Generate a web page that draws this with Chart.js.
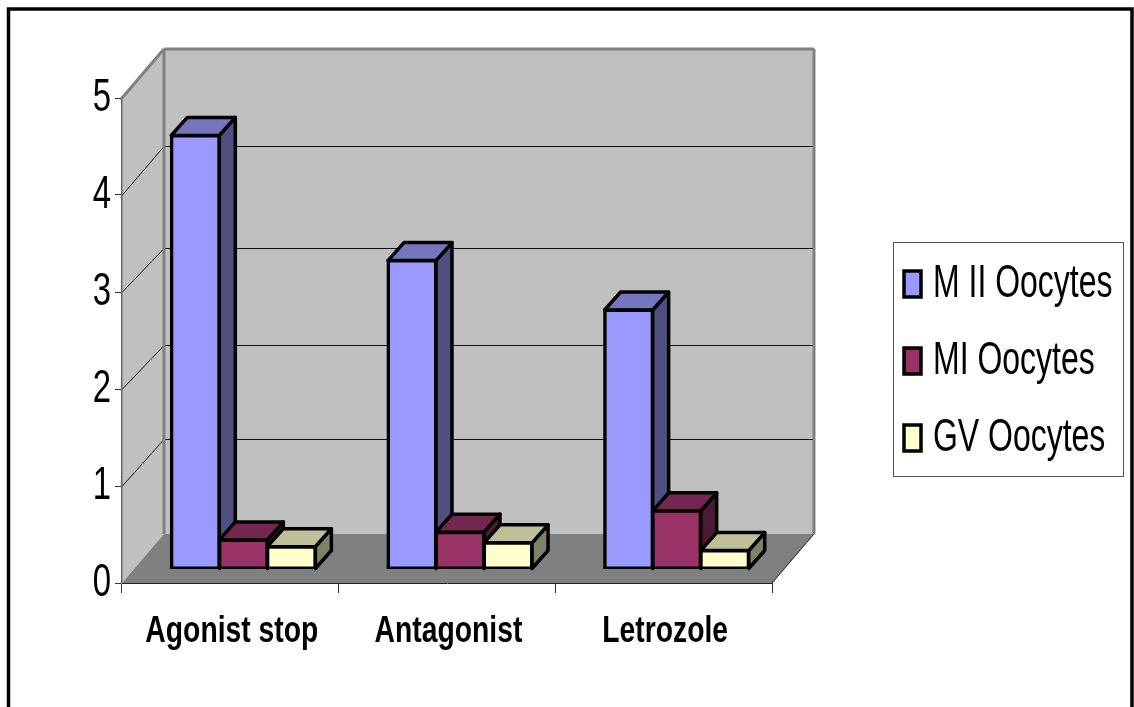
<!DOCTYPE html>
<html>
<head>
<meta charset="utf-8">
<style>html,body{margin:0;padding:0;background:#fff}canvas{display:block}</style>
<script src="https://cdn.jsdelivr.net/npm/chart.js@4"></script>
</head>
<body>
<canvas id="c" width="1134" height="707"></canvas>
<script>
const categories = ["Agonist stop", "Antagonist", "Letrozole"];
const mIIOocytes = [4.47, 3.18, 2.67];
const mIOocytes = [0.30, 0.38, 0.60];
const gvOocytes = [0.23, 0.27, 0.19];
const seriesNames = ["M II Oocytes", "MI Oocytes", "GV Oocytes"];
const yTicks = [0, 1, 2, 3, 4, 5];

const FAMILY = '"Liberation Sans",Arial,sans-serif';
const SIZE_TICK = 47, SIZE_CAT = 37, SIZE_LEG = 46;
const WALL = {dx: 42, dy: -49};
const GRID_RISE = {1: -47, 2: -44, 3: -44, 4: -49};
const BAR_OFF = {dx: 13, dy: -14};
const BAR_DEPTH = {dx: 16, dy: -18};
const shades = [
  {front: '#9999FF', top: '#7676BF', side: '#4F4F80'},
  {front: '#993366', top: '#732650', side: '#4D1A33'},
  {front: '#FFFFCC', top: '#BFBF99', side: '#808066'}
];
function poly(ctx, pts, fill, stroke, lw) {
  ctx.beginPath();
  pts.forEach((p, i) => i ? ctx.lineTo(p[0], p[1]) : ctx.moveTo(p[0], p[1]));
  ctx.closePath();
  if (fill) { ctx.fillStyle = fill; ctx.fill(); }
  if (stroke) { ctx.strokeStyle = stroke; ctx.lineWidth = lw; ctx.lineJoin = 'round'; ctx.stroke(); }
}
function line(ctx, x1, y1, x2, y2, color, lw) {
  ctx.beginPath(); ctx.moveTo(x1, y1); ctx.lineTo(x2, y2);
  ctx.strokeStyle = color; ctx.lineWidth = lw; ctx.stroke();
}
// The reference text is a very condensed face: squeeze each string about its anchor.
function condense(ctx) {
  const fill = ctx.fillText.bind(ctx);
  ctx.fillText = function (t, x, y, w) {
    const m = /(\d+(?:\.\d+)?)px/.exec(ctx.font), s = m ? +m[1] : 0;
    const sx = s === SIZE_LEG ? 0.695 : s === SIZE_CAT ? 0.765 : s === SIZE_TICK ? 0.7 : 1;
    const ox = s === SIZE_LEG ? -11 : s === SIZE_CAT ? 1.5 : 0;
    ctx.save(); ctx.translate(x + ox, y); ctx.scale(sx, 1);
    fill(t, 0, 0);
    ctx.restore();
  };
}
const scene = {
  id: 'scene',
  afterInit(chart) {
    condense(chart.ctx);
    const lg = chart.legend, fit = lg.fit, draw = lg.draw;
    lg.fit = function () { fit.call(this); this.width = 362; };
    lg.draw = function () {
      const ctx = chart.ctx, h = this.legendHitBoxes[0];
      ctx.save();
      ctx.strokeStyle = '#555'; ctx.lineWidth = 1;
      ctx.strokeRect(893.5, 242.5, 230, 234);
      ctx.translate(904 - h.left, 284 - (h.top + h.height / 2));
      draw.call(this);
      ctx.restore();
    };
  },
  beforeDraw(chart) {
    const ctx = chart.ctx, a = chart.chartArea, y = chart.scales.y;
    const {dx, dy} = WALL;
    ctx.save();
    ctx.fillStyle = '#fff'; ctx.fillRect(0, 0, chart.width, chart.height);
    ctx.beginPath(); ctx.moveTo(8.5, 707); ctx.lineTo(8.5, 9); ctx.lineTo(1132, 9); ctx.lineTo(1132, 707);
    ctx.strokeStyle = '#000'; ctx.lineWidth = 3.5; ctx.stroke();
    const y0 = y.getPixelForValue(0), yM = y.getPixelForValue(5);
    poly(ctx, [[a.left, yM], [a.left + dx, yM + dy], [a.left + dx, y0 + dy], [a.left, y0]], '#C0C0C0');
    poly(ctx, [[a.left + dx, yM + dy], [a.right + dx, yM + dy], [a.right + dx, y0 + dy], [a.left + dx, y0 + dy]], '#C0C0C0');
    poly(ctx, [[a.left, y0], [a.left + dx, y0 + dy], [a.right + dx, y0 + dy], [a.right, y0]], '#808080');
    yTicks.slice(1, -1).forEach(t => {
      const p = Math.round(y.getPixelForValue(t)) + 0.5, r = GRID_RISE[t];
      line(ctx, a.left, p, a.left + dx, p + r, '#111', 1);
      line(ctx, a.left + dx, p + r, a.right + dx, p + r, '#111', 1);
    });
    line(ctx, a.left, yM, a.left + dx, yM + dy, '#808080', 3);
    line(ctx, a.left + dx, yM + dy, a.right + dx, yM + dy, '#808080', 3);
    line(ctx, a.left + dx, yM + dy, a.left + dx, y0 + dy, '#808080', 3);
    line(ctx, a.right + dx, yM + dy, a.right + dx, y0 + dy, '#808080', 3);
    line(ctx, a.right, y0, a.right + dx, y0 + dy, '#222', 1);
    ctx.restore();
  },
  beforeDatasetsDraw(chart) {
    const ctx = chart.ctx;
    ctx.save();
    ctx.translate(BAR_OFF.dx, BAR_OFF.dy);
    const {dx, dy} = BAR_DEPTH;
    chart.data.datasets.forEach((ds, i) => {
      chart.getDatasetMeta(i).data.forEach(b => {
        const L = b.x - b.width / 2, R = b.x + b.width / 2, T = b.y, B = b.base;
        poly(ctx, [[R, T], [R + dx, T + dy], [R + dx, B + dy], [R, B]], shades[i].side, '#000', 3.5);
        poly(ctx, [[L, T], [L + dx, T + dy], [R + dx, T + dy], [R, T]], shades[i].top, '#000', 3.5);
      });
    });
  },
  afterDatasetsDraw(chart) { chart.ctx.restore(); }
};
Chart.defaults.font.family = FAMILY;
new Chart(document.getElementById('c'), {
  type: 'bar',
  data: {
    labels: categories,
    datasets: [mIIOocytes, mIOocytes, gvOocytes].map((d, i) => ({
      label: seriesNames[i],
      data: d,
      backgroundColor: shades[i].front,
      borderColor: '#000',
      borderWidth: 3.5,
      borderSkipped: false,
      inflateAmount: 1.5
    }))
  },
  options: {
    responsive: false,
    animation: false,
    devicePixelRatio: 1,
    layout: {padding: {top: 98, right: 0, bottom: 0, left: 0}},
    datasets: {bar: {categoryPercentage: 0.665, barPercentage: 1}},
    plugins: {
      tooltip: {enabled: false},
      title: {display: false},
      legend: {
        display: true, position: 'right', align: 'start',
        labels: {boxWidth: 17, boxHeight: 26, padding: 31, color: '#000', font: {size: SIZE_LEG, family: FAMILY}}
      }
    },
    scales: {
      x: {
        afterFit(s) { s.height = 124; },
        border: {display: true, color: '#222', width: 1},
        grid: {display: true, drawOnChartArea: false, drawTicks: true, tickLength: 10, color: '#333'},
        ticks: {color: '#000', padding: 17, maxRotation: 0, autoSkip: false, font: {size: SIZE_CAT, weight: 'bold', family: FAMILY}}
      },
      y: {
        min: 0, max: 5,
        afterFit(s) { s.width = 122; },
        afterBuildTicks(s) { s.ticks = yTicks.map(v => ({value: v})); },
        border: {display: true, color: '#666', width: 1.5},
        grid: {display: true, drawOnChartArea: false, drawTicks: true, tickLength: 7, color: '#333'},
        ticks: {color: '#000', padding: 4, font: {size: SIZE_TICK, family: FAMILY}}
      }
    }
  },
  plugins: [scene]
});
</script>
</body>
</html>
